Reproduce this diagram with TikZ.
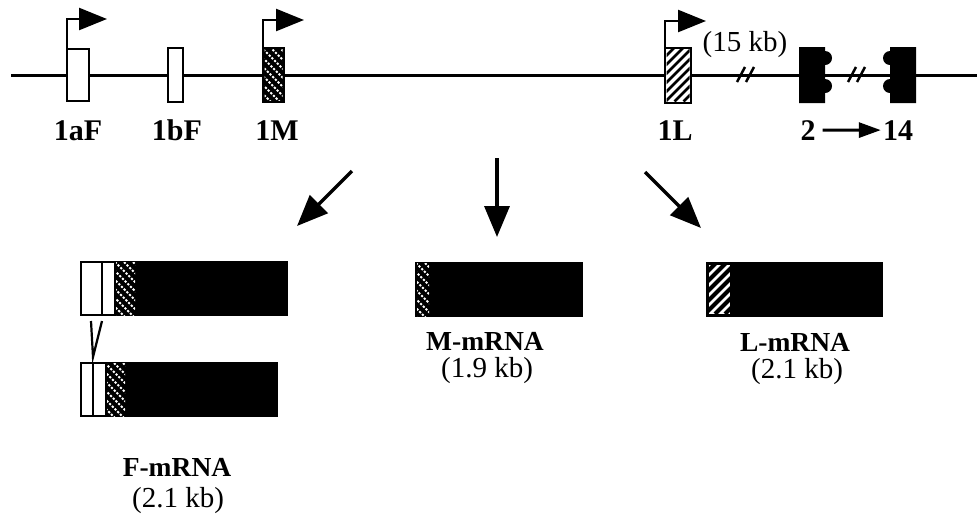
\documentclass[tikz,border=0pt]{standalone}
\usepackage{fontspec}
\setmainfont{Liberation Serif}
\usetikzlibrary{arrows.meta,calc}

% diagonal strokes running down to the right, clipped to a box
\newcommand\hatchdown[6]{%
  \begin{scope}
    \clip (#1,#2) rectangle (#3,#4);
    \foreach \i in {0,...,16} \draw[#6] (#1-64+\i*#5,#2) -- ++(80,80);
  \end{scope}}
% diagonal strokes running up to the right, clipped to a box
\newcommand\hatchup[6]{%
  \begin{scope}
    \clip (#1,#2) rectangle (#3,#4);
    \foreach \i in {0,...,16} \draw[#6] (#1-64+\i*#5,#4) -- ++(80,-80);
  \end{scope}}

\begin{document}
\begin{tikzpicture}[x=1pt,y=-1pt,
  exon/.style={draw, line width=2.5pt, fill=white, inner sep=0pt, outer sep=0pt},
  prom/.style={line width=2.5pt, line join=miter, -{Triangle[length=28pt,width=22pt]}},
  bigarrow/.style={line width=3.5pt, -{Triangle[length=31pt,width=25pt]}},
  toplbl/.style={font=\fontsize{30}{30}\selectfont\bfseries, anchor=base, inner sep=0pt},
  kblbl/.style={font=\fontsize{29}{29}\selectfont, anchor=base, inner sep=0pt},
  rnalbl/.style={font=\fontsize{27.5}{27.5}\selectfont\bfseries, anchor=base, inner sep=0pt},
  dots/.style={white, line width=1.8pt, dash pattern=on 2.2pt off 1.6pt},
  blackstripe/.style={black, line width=2.6pt},
  widestripe/.style={black, line width=4pt},
  breakmark/.style={line width=2.5pt}
]
\useasboundingbox (0,0) rectangle (977,523);

% ---------- genomic map ----------
\coordinate (lineL) at (11,75);
\coordinate (lineR) at (977,75);
\draw[line width=3pt] (lineL) -- (lineR);

% first exons
\node[exon, minimum width=22pt, minimum height=52pt] (e1aF) at (78,75) {};
\node[exon, minimum width=15pt, minimum height=54pt] (e1bF) at (175.5,75) {};
\node[exon, fill=black, minimum width=21pt, minimum height=54pt] (e1M) at (273.5,75) {};
\hatchdown{264.5}{49.5}{282.5}{100.5}{9}{dots}
\node[exon, minimum width=26pt, minimum height=55pt] (e1L) at (678,75.5) {};
\hatchup{666.5}{49.5}{689.5}{101.5}{9}{blackstripe}

% promoters
\coordinate (p1aF) at (107,19);
\coordinate (p1M) at (304,20);
\coordinate (p1L) at (706,21);
\draw[prom] (e1aF.north west) |- (p1aF);
\draw[prom] (e1M.north west) |- (p1M);
\draw[prom] (e1L.north west) |- (p1L);

\node[kblbl] (kb15) at (745,51) {(15 kb)};

% breaks in the line
\draw[breakmark] (737,82) -- (745,67) (746,82) -- (754,67);
\draw[breakmark] (848,82) -- (856,67) (857,82) -- (865,67);

% exons 2 and 14 with scalloped inner edges
\fill (799,47) -- (825,47) -- (825,51) arc[start angle=-90,end angle=90,radius=7]
  -- (825,79) arc[start angle=-90,end angle=90,radius=7]
  -- (825,103) -- (799,103) -- cycle;
\fill (916,47) -- (890,47) -- (890,51) arc[start angle=-90,end angle=-270,radius=7]
  -- (890,79) arc[start angle=-90,end angle=-270,radius=7]
  -- (890,103) -- (916,103) -- cycle;

% exon labels
\node[toplbl] (t1aF) at (78,140) {1aF};
\node[toplbl] (t1bF) at (177,140) {1bF};
\node[toplbl] (t1M) at (277,140) {1M};
\node[toplbl] (t1L) at (675,140) {1L};
\node[toplbl] (t2) at (808,140) {2};
\node[toplbl] (t14) at (898,140) {14};
\draw[line width=3pt, -{Triangle[length=22pt,width=15pt]}]
  ($(t2.east)+(7,0)$) -- ($(t14.west)+(-2,0)$);

% ---------- transcripts ----------
\coordinate (aLs) at (352,171); \coordinate (aLe) at (297,226);
\coordinate (aMs) at (497,158); \coordinate (aMe) at (497,237);
\coordinate (aRs) at (645,172); \coordinate (aRe) at (701,228);
\draw[bigarrow] (aLs) -- (aLe);
\draw[bigarrow] (aMs) -- (aMe);
\draw[bigarrow] (aRs) -- (aRe);

% F-mRNA, two splice forms
\fill (80,261) rectangle (288,316);
\hatchdown{116}{262}{135}{315}{9}{dots}
\draw[line width=2.5pt, fill=white] (81,262) rectangle (102,315);
\draw[line width=2.5pt, fill=white] (102,262) rectangle (115,315);

\draw[line width=2.2pt] (91,321) -- (93,357) -- (102,321);

\fill (80,362) rectangle (278,417);
\hatchdown{106}{363}{125}{416}{9}{dots}
\draw[line width=2.5pt, fill=white] (81,363) rectangle (93,416);
\draw[line width=2.5pt, fill=white] (93,363) rectangle (106,416);

\node[rnalbl] (fl) at (177,476) {F-mRNA};
\node[kblbl] (fkb) at (178,507) {(2.1 kb)};

% M-mRNA
\fill (415,262) rectangle (583,317);
\hatchdown{417}{263}{429}{316}{9}{dots}
\node[rnalbl] (ml) at (485,350) {M-mRNA};
\node[kblbl] (mkb) at (487,377) {(1.9 kb)};

% L-mRNA
\fill (706,262) rectangle (883,317);
\fill[white] (709,265) rectangle (730,314);
\hatchup{709}{265}{730}{314}{10}{widestripe}
\node[rnalbl] (ll) at (795,351) {L-mRNA};
\node[kblbl] (lkb) at (797,378) {(2.1 kb)};
\end{tikzpicture}
\end{document}
